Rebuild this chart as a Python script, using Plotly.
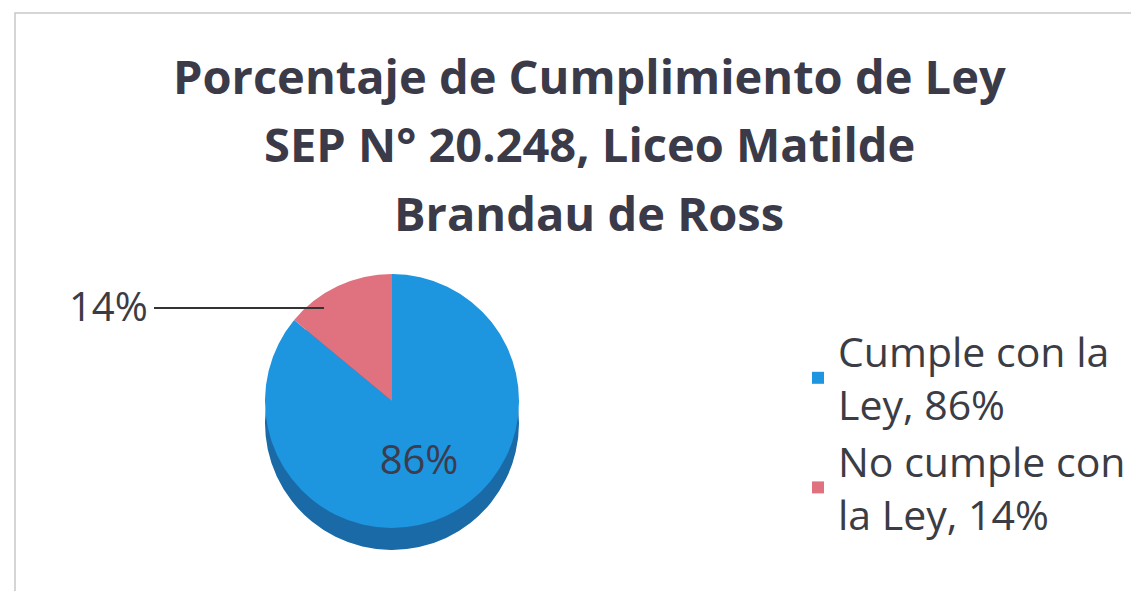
import plotly.graph_objects as go

categories = ["Cumple con la Ley", "No cumple con la Ley"]
legend_labels = ["Cumple con la<br>Ley, 86%", "No cumple con<br>la Ley, 14%"]
values = [86, 14]
colors = ["#1E95DF", "#E0727F"]
side_colors = ["#1A6AA8", "#A8505A"]
title_lines = ["Porcentaje de Cumplimiento de Ley", "SEP N° 20.248, Liceo Matilde", "Brandau de Ross"]

W, H = 1139, 591

def px_x(v):
    return v / W

def px_y(v):
    return 1 - v / H

fig = go.Figure()
# darker "side" of the disc (same data, drawn slightly lower)
fig.add_trace(go.Pie(
    labels=legend_labels,
    values=values,
    marker=dict(colors=side_colors, line=dict(width=0)),
    sort=False, direction="clockwise", rotation=0,
    textinfo="none",
    domain=dict(x=[px_x(234), px_x(534)], y=[px_y(542), px_y(288)]),
    showlegend=False, hoverinfo="skip",
))
fig.add_trace(go.Pie(
    labels=legend_labels,
    values=values,
    marker=dict(colors=colors, line=dict(width=0)),
    sort=False,
    direction="clockwise",
    rotation=0,
    texttemplate=["%{percent:.0%}", ""],
    textposition=["inside", "none"],
    insidetextorientation="horizontal",
    textfont=dict(family="Open Sans", size=40, color="#3C3C4E"),
    domain=dict(x=[px_x(234), px_x(534)], y=[px_y(520), px_y(266)]),
    showlegend=True,
    hoverinfo="label+percent",
))

# outside label for the small slice, text built from data
total = sum(values)
pct_small = round(values[1] / total * 100)
fig.add_annotation(
    x=px_x(100), y=px_y(297), xref="paper", yref="paper",
    text=f"{pct_small}%", showarrow=False,
    xanchor="center", yanchor="middle",
    font=dict(family="Open Sans", size=40, color="#3C3C44"),
)
fig.add_shape(type="line", xref="paper", yref="paper",
              x0=px_x(146), x1=px_x(316), y0=px_y(300), y1=px_y(300),
              line=dict(color="#333333", width=2))

# title lines
for line, yc in zip(title_lines, [68, 136, 205]):
    fig.add_annotation(
        x=px_x(581), y=px_y(yc), xref="paper", yref="paper",
        text=f"<b>{line}</b>", showarrow=False,
        xanchor="center", yanchor="middle",
        font=dict(family="Open Sans", size=47, color="#3A3A48"),
    )

# frame
fig.add_shape(type="rect", xref="paper", yref="paper",
              x0=px_x(7), x1=1.05, y0=-0.05, y1=px_y(5),
              line=dict(color="#C8C8C8", width=1.5))

fig.update_layout(
    width=W, height=H,
    margin=dict(l=0, r=0, t=0, b=0),
    paper_bgcolor="white",
    plot_bgcolor="white",
    legend=dict(
        x=px_x(790), y=px_y(310), xanchor="left", yanchor="top",
        font=dict(family="Open Sans", size=41, color="#3C3C44"),
        itemsizing="constant",
        tracegroupgap=18,
        bgcolor="rgba(0,0,0,0)",
    ),
)

fig.write_html("out.html")
